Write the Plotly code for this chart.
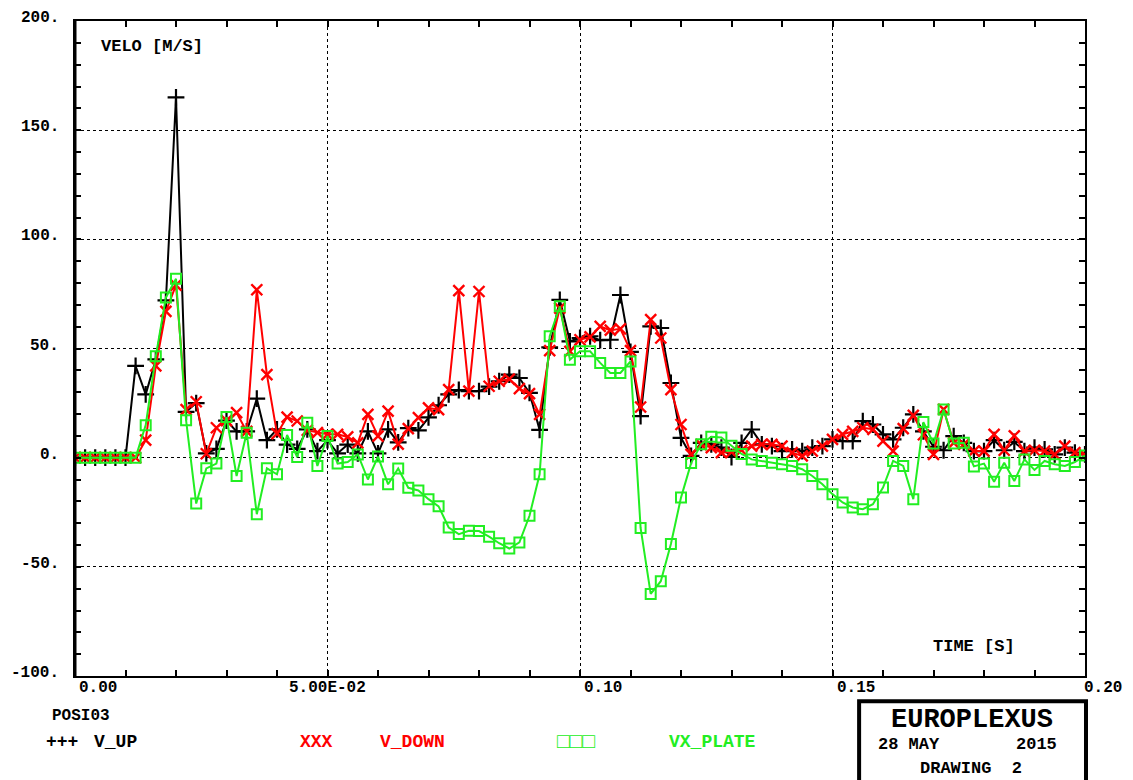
import plotly.graph_objects as go

# ---------------- data ----------------
time_s = [round(0.002 * i, 3) for i in range(101)]

v_up = [0, 0, 0, 0, 0, 0, 42, 29, 45, 72,
        165, 21, 25, 2, 4, 17, 12, 12, 27, 8,
        13, 6, 4, 13, 3, 8, 2, 6, 2, 12,
        2, 13, 7, 13.5, 12.5, 18.5, 24, 29, 31, 30.5,
        30.5, 32.5, 35, 38, 36.5, 29.7, 12.7, 50.5, 72.3, 53.3,
        54.8, 55.6, 53.8, 54, 74.5, 48.5, 19, 60.1, 59.4, 34.2,
        9.1, 0.8, 6.8, 6.1, 4.6, 0.3, 6.8, 12.9, 6.1, 5.3,
        3, 3.8, 3, 4.6, 5.3, 8.4, 7.6, 7.6, 16.7, 15.2,
        10.7, 8.4, 13.7, 19.8, 12, 5, 3.4, 9.9, 6.8, 3,
        3, 8, 3.4, 7.2, 3, 4.6, 3.8, 1.5, 4.6, 2.3,
        1.5]

v_down = [0, 0, 0, 0, 0, 0, 0, 8, 42, 67,
          79, 22, 25.6, 1.8, 13.7, 17, 20.6, 12, 76.9, 38,
          11, 18.6, 16.8, 12.5, 11.5, 10.7, 10.7, 9.5, 6.8, 19.8,
          9.9, 21.3, 6.2, 13.3, 18.3, 22.8, 22, 31.2, 76.5, 30.5,
          76.1, 32.7, 35, 36, 31.6, 29.3, 19.8, 49, 68.5, 48.7,
          54, 55.3, 60.1, 58.4, 59, 49, 23.2, 63.2, 54.8, 31.2,
          15.2, 1.5, 6, 4.6, 2.3, 2.6, 3.4, 5.3, 6.1, 6.1,
          5.3, 2.3, 0.8, 3, 5.3, 8.4, 10.7, 12, 13.7, 13,
          7.6, 3, 13.3, 19.4, 10.5, 1.5, 22.1, 6.8, 6.1, 3,
          3, 10.7, 3.4, 10, 3, 3.4, 3, 1.5, 5.3, 2.3,
          1.2]

vx_plate = [0, 0, 0, 0, 0, 0, 0, 14.9, 46.4, 73.4,
            81.9, 17.1, -21, -4.9, -2.7, 18.6, -8.4, 11.4, -25.9, -4.9,
            -7.6, 10.4, 0.3, 16, -3.8, 9.9, -2.7, -2, 1.5, -10,
            0.5, -12.2, -5, -13.8, -15, -19, -22.3, -32, -35, -33.5,
            -33.6, -36.2, -39.2, -41.6, -38.8, -26.6, -7.6, 55.6, 69.3, 44.9,
            48.7, 48.7, 43.4, 38.8, 38.8, 44.1, -32.2, -62.4, -56.6, -39.5,
            -18.3, -2.5, 6.2, 9.6, 9.2, 5.5, 1.7, -0.8, -1.5, -2.3,
            -3, -3.8, -5.3, -8.4, -12.2, -16.7, -20.5, -22.8, -23.6, -21.3,
            -13.7, -1.5, -3.8, -19, 16.3, 6.5, 22.1, 6.5, 6.8, -4,
            -2.7, -11, -2.3, -10.7, -0.8, -5.6, -1.5, -3, -3.8, -2,
            1]

y_ticks = [200, 150, 100, 50, 0, -50, -100]
y_tick_labels = ["200.", "150.", "100.", "50.", "0.", "-50.", "-100."]
x_ticks = [0.0, 0.05, 0.10, 0.15, 0.20]
x_tick_labels = ["0.00", "5.00E-02", "0.10", "0.15", "0.20"]

# ---------------- layout geometry (window pixels) ----------------
OFF = 8  # page body margin of the browser
W, H = 1133 - OFF, 780 - OFF
L, R, T, B = 74.5, 1085.0, 18.7, 675.7  # plot frame in window pixels
FONT = "Liberation Mono"


def px(x):
    return (x - L) / (R - L)


def py(y):
    return (B - y) / (B - T)


fig = go.Figure()
fig.add_trace(go.Scatter(
    x=time_s, y=v_up, mode="lines+markers", name="V_UP",
    line=dict(color="black", width=2),
    marker=dict(symbol="cross-thin", size=12, line=dict(color="black", width=2.2)),
))
fig.add_trace(go.Scatter(
    x=time_s, y=v_down, mode="lines+markers", name="V_DOWN",
    line=dict(color="#ff0000", width=2),
    marker=dict(symbol="x-thin", size=11, line=dict(color="#ff0000", width=2.4)),
))
fig.add_trace(go.Scatter(
    x=time_s, y=vx_plate, mode="lines+markers", name="VX_PLATE",
    line=dict(color="#22ee22", width=2),
    marker=dict(symbol="square-open", size=10, color="#22ee22",
                line=dict(color="#22ee22", width=2)),
))

axis_common = dict(
    showline=True, linecolor="black", linewidth=2, mirror="allticks",
    ticks="inside", ticklen=6, tickwidth=1.5, tickcolor="black",
    showgrid=True, gridcolor="black", gridwidth=1.4, griddash="dot",
    zeroline=False, showticklabels=False,
)

fig.update_xaxes(range=[0, 0.2], dtick=0.05, tick0=0,
                 minor=dict(dtick=0.01, ticks="inside", ticklen=6, tickwidth=1.5,
                            tickcolor="black", showgrid=False),
                 **axis_common)
fig.update_yaxes(range=[-100, 200], dtick=50, tick0=0,
                 minor=dict(dtick=10, ticks="inside", ticklen=6, tickwidth=1.5,
                            tickcolor="black", showgrid=False),
                 **axis_common)

annotations = []
for v, lab in zip(y_ticks, y_tick_labels):
    annotations.append(dict(x=px(60), y=v, xref="paper", yref="y", text="<b>" + lab + "</b>",
                            showarrow=False, xanchor="right", yanchor="middle",
                            yshift=3, font=dict(family=FONT, size=16, color="black")))
x_label_anchor = ["left", "center", "left", "left", "right"]
x_label_shift = [2, 0, 2, 2, 39]
for v, lab, anc, sh in zip(x_ticks, x_tick_labels, x_label_anchor, x_label_shift):
    annotations.append(dict(x=v, y=py(688), xref="x", yref="paper", text="<b>" + lab + "</b>",
                            showarrow=False, xanchor=anc, yanchor="middle",
                            xshift=sh,
                            font=dict(family=FONT, size=16, color="black")))


def txt(x, y, s, color="black", size=17, anchor="left", bold=True):
    if bold:
        s = "<b>" + s + "</b>"
    annotations.append(dict(x=px(x), y=py(y), xref="paper", yref="paper", text=s,
                            showarrow=False, xanchor=anchor, yanchor="middle",
                            font=dict(family=FONT, size=size, color=color)))


txt(99, 44, "VELO [M/S]")
txt(931, 646, "TIME [S]")
txt(49, 716, "POSI03", size=16)
txt(43, 742, "+++", size=18)
txt(92, 742, "V_UP", size=18)
txt(298, 742, "XXX", color="#ff0000", size=18)
txt(378, 742, "V_DOWN", color="#ff0000", size=18)
txt(555, 742, "□□□", color="#22ee22", size=21)
txt(667, 742, "VX_PLATE", color="#22ee22", size=18)
txt(972, 720, "EUROPLEXUS", size=27, anchor="center")
txt(876, 744, "28 MAY", size=17)
txt(1059, 744, "2015", anchor="right", size=17)
txt(918, 768, "DRAWING  2", size=17)

shapes = [
    dict(type="rect", xref="paper", yref="paper",
         x0=px(859), x1=px(1086), y0=py(800), y1=py(701),
         line=dict(color="black", width=4)),
    dict(type="line", xref="paper", yref="paper",
         x0=0, x1=0, y0=0, y1=1, line=dict(color="black", width=3)),
]

fig.update_layout(
    width=W, height=H,
    margin=dict(l=L - OFF, r=W - (R - OFF), t=T - OFF, b=H - (B - OFF), pad=0),
    paper_bgcolor="white", plot_bgcolor="white",
    showlegend=False,
    annotations=annotations, shapes=shapes,
    font=dict(family=FONT, size=15, color="black"),
)

fig.write_html("out.html")
